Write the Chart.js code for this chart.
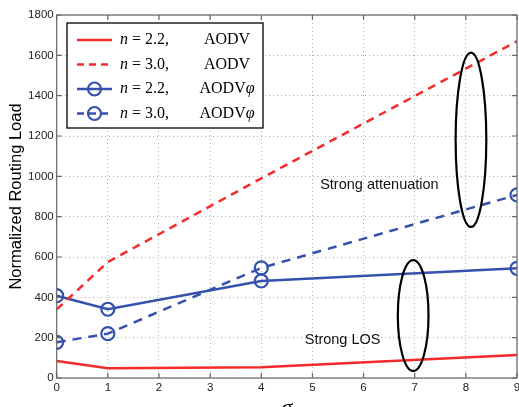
<!DOCTYPE html>
<html>
<head>
<meta charset="utf-8">
<script src="https://cdn.jsdelivr.net/npm/chart.js@4/dist/chart.umd.min.js"></script>
<style>
  html, body { margin: 0; padding: 0; background: #fff; }
  #wrap { width: 519px; height: 407px; }
</style>
</head>
<body>
<div id="wrap"><canvas id="lineChart"></canvas></div>
<script>
// sigma values along the x axis
const sigma = [0, 1, 4, 9];
const aodv22 = [84, 48, 53, 114];
const aodv30 = [340, 575, 990, 1670];
const aodvPhi22 = [408, 341, 481, 544];
const aodvPhi30 = [177, 220, 546, 908];
const xTicks = [0, 1, 2, 3, 4, 5, 6, 7, 8, 9];
const yTicks = [0, 200, 400, 600, 800, 1000, 1200, 1400, 1600, 1800];

const RED = "#f52a2a";
const BLUE = "#3551ad";

const pts = (vals) => sigma.map((s, i) => ({ x: s, y: vals[i] }));

const datasets = [
    { label: "2.2|AODV", data: pts(aodv22), borderColor: RED, borderWidth: 2.5, pointRadius: 0 },
    { label: "3.0|AODV", data: pts(aodv30), borderColor: RED, borderWidth: 2.5, borderDash: [8, 6], pointRadius: 0 },
    { label: "2.2|AODVφ", data: pts(aodvPhi22), borderColor: BLUE, borderWidth: 2.5, pointRadius: 6.5,
      pointBorderWidth: 2.2, pointBorderColor: BLUE, pointBackgroundColor: "rgba(0,0,0,0)" },
    { label: "3.0|AODVφ", data: pts(aodvPhi30), borderColor: BLUE, borderWidth: 2.5, borderDash: [9, 7], pointRadius: 6.5,
      pointBorderWidth: 2.2, pointBorderColor: BLUE, pointBackgroundColor: "rgba(0,0,0,0)" },
];

// annotations in data units
const notes = [
    { text: "Strong attenuation", x: 6.31, y: 958 },
    { text: "Strong LOS", x: 5.59, y: 189 },
];
const rings = [
    { x: 8.1, y: 1181, rx: 0.3, ry: 432 },
    { x: 6.97, y: 310, rx: 0.3, ry: 275 },
];

const extras = {
    id: "extras",
    afterDatasetsDraw(chart) {
        const { ctx, chartArea: a, scales: { x, y } } = chart;
        ctx.save();
        // axis frame with inward ticks
        ctx.strokeStyle = "#666";
        ctx.lineWidth = 1.2;
        ctx.setLineDash([]);
        ctx.strokeRect(a.left, a.top, a.right - a.left, a.bottom - a.top);
        ctx.beginPath();
        xTicks.forEach((v) => {
            const px = x.getPixelForValue(v);
            ctx.moveTo(px, a.bottom); ctx.lineTo(px, a.bottom - 5);
            ctx.moveTo(px, a.top); ctx.lineTo(px, a.top + 5);
        });
        yTicks.forEach((v) => {
            const py = y.getPixelForValue(v);
            ctx.moveTo(a.left, py); ctx.lineTo(a.left + 5, py);
            ctx.moveTo(a.right, py); ctx.lineTo(a.right - 5, py);
        });
        ctx.stroke();

        // ellipses
        ctx.strokeStyle = "#000";
        ctx.lineWidth = 2.2;
        rings.forEach((r) => {
            const cx = x.getPixelForValue(r.x), cy = y.getPixelForValue(r.y);
            const rx = x.getPixelForValue(r.x + r.rx) - cx;
            const ry = cy - y.getPixelForValue(r.y + r.ry);
            ctx.beginPath();
            ctx.ellipse(cx, cy, rx, ry, 0, 0, Math.PI * 2);
            ctx.stroke();
        });

        // annotation texts
        ctx.fillStyle = "#111";
        ctx.font = "14.5px 'Liberation Sans', Arial, sans-serif";
        ctx.textAlign = "center";
        ctx.textBaseline = "middle";
        notes.forEach((n) => ctx.fillText(n.text, x.getPixelForValue(n.x), y.getPixelForValue(n.y)));

        // legend
        const L = 67, T = 23, W = 196, H = 105;
        ctx.fillStyle = "#fff";
        ctx.fillRect(L, T, W, H);
        ctx.strokeStyle = "#000";
        ctx.lineWidth = 1.3;
        ctx.strokeRect(L, T, W, H);
        datasets.forEach((d, i) => {
            const ry = 40 + i * 24.5;
            ctx.strokeStyle = d.borderColor;
            ctx.lineWidth = d.borderWidth;
            ctx.setLineDash(d.borderDash ? [7, 5] : []);
            ctx.beginPath();
            ctx.moveTo(77, ry);
            ctx.lineTo(112, ry);
            ctx.stroke();
            ctx.setLineDash([]);
            if (d.pointRadius) {
                ctx.lineWidth = 2.2;
                ctx.beginPath();
                ctx.arc(94.5, ry, 6.5, 0, Math.PI * 2);
                ctx.stroke();
            }
            const [nv, name] = d.label.split("|");
            ctx.fillStyle = "#000";
            ctx.textBaseline = "middle";
            ctx.textAlign = "left";
            ctx.font = "italic 16px 'Liberation Serif', serif";
            ctx.fillText("n", 120, ry);
            const nw = ctx.measureText("n").width;
            ctx.font = "16px 'Liberation Serif', serif";
            ctx.fillText(" = " + nv + ",", 120 + nw, ry);
            // centred name column
            const base = "AODV";
            const bw = ctx.measureText(base).width;
            let pw = 0;
            if (name.length > 4) {
                ctx.font = "italic 16px 'Liberation Serif', serif";
                pw = ctx.measureText("φ").width;
            }
            const sx = 227 - (bw + pw) / 2;
            ctx.font = "16px 'Liberation Serif', serif";
            ctx.fillText(base, sx, ry);
            if (pw) {
                ctx.font = "italic 16px 'Liberation Serif', serif";
                ctx.fillText("φ", sx + bw, ry);
            }
        });

        // x axis title
        ctx.fillStyle = "#000";
        ctx.font = "italic 22px 'Liberation Serif', serif";
        ctx.textAlign = "center";
        ctx.textBaseline = "alphabetic";
        ctx.fillText("σ", (a.left + a.right) / 2, 414);
        ctx.restore();
    },
};

const tickFont = { family: "'Liberation Sans', Arial", size: 11.5 };

new Chart(document.getElementById("lineChart"), {
    type: "line",
    data: { datasets },
    plugins: [extras],
    options: {
        responsive: true,
        maintainAspectRatio: false,
        animation: false,
        layout: { autoPadding: false, padding: { top: 15, right: 2, left: 0, bottom: 0 } },
        plugins: { legend: { display: false }, tooltip: { enabled: false } },
        elements: { line: { tension: 0, fill: false } },
        scales: {
            x: {
                type: "linear",
                min: 0,
                max: 9,
                afterFit: (s) => { s.height = 29; s.paddingLeft = 0; s.paddingRight = 0; },
                afterBuildTicks: (s) => { s.ticks = xTicks.map((v) => ({ value: v })); },
                ticks: { color: "#222", padding: 3, font: tickFont, callback: (v) => String(v) },
                grid: { color: "#b0b0b0", lineWidth: 1, drawTicks: false },
                border: { display: false, dash: [1, 3] },
            },
            y: {
                min: 0,
                max: 1800,
                afterFit: (s) => { s.width = 56.7; s.paddingTop = 0; s.paddingBottom = 0; },
                afterBuildTicks: (s) => { s.ticks = yTicks.map((v) => ({ value: v })); },
                ticks: { color: "#222", padding: 3, font: tickFont, callback: (v) => String(v) },
                grid: { color: "#b0b0b0", lineWidth: 1, drawTicks: false },
                border: { display: false, dash: [1, 3] },
                title: {
                    display: true,
                    text: "Normalized Routing Load",
                    color: "#000",
                    padding: { top: 7, bottom: 0 },
                    font: { family: "'Liberation Sans', Arial", size: 16.5 },
                },
            },
        },
    },
});
</script>
</body>
</html>
